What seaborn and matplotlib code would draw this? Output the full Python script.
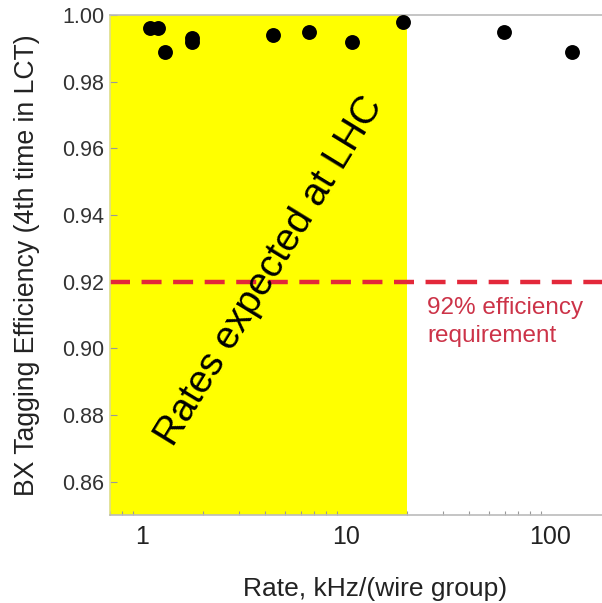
import matplotlib
matplotlib.use("Agg")
import matplotlib.pyplot as plt
import seaborn as sns
import pandas as pd
from matplotlib.ticker import FixedLocator, LogLocator, NullFormatter

# Measured BX tagging efficiency vs. wire-group rate
rate_khz = [1.09, 1.20, 1.30, 1.76, 1.76, 4.4, 6.6, 10.7, 19.0, 59.5, 129.0]
efficiency = [0.996, 0.996, 0.989, 0.993, 0.992, 0.994, 0.995, 0.992, 0.998, 0.995, 0.989]

requirement = 0.92          # efficiency requirement
lhc_rate_max = 20.0         # upper end of rates expected at LHC (kHz)

x_ticks = [1, 10, 100]
x_tick_labels = ["1", "10", "100"]
y_ticks = [0.86, 0.88, 0.90, 0.92, 0.94, 0.96, 0.98, 1.00]
y_tick_labels = ["0.86", "0.88", "0.90", "0.92", "0.94", "0.96", "0.98", "1.00"]

df = pd.DataFrame({"rate": rate_khz, "eff": efficiency})

sns.set_theme(style="white")
plt.rcParams["font.family"] = ["Liberation Sans", "DejaVu Sans"]

fig = plt.figure(figsize=(6.02, 6.03), dpi=100)
ax = fig.add_axes([110 / 602, 88 / 603, 1 - 110 / 602, (515 - 15) / 603])

ax.set_xscale("log")
ax.set_xlim(0.697, 180)
ax.set_ylim(0.85, 1.00)

# shaded band of expected LHC rates
ax.axvspan(0.697, lhc_rate_max, color="#ffff00", zorder=0, lw=0)

# requirement line
ax.axhline(requirement, color="#e3283a", lw=3.2, ls=(0, (4.5, 2.6)), zorder=2)

sns.scatterplot(data=df, x="rate", y="eff", ax=ax, color="black", s=115,
                edgecolor="black", linewidth=0, zorder=3, legend=False)

ax.text(4.24, 0.9231, "Rates expected at LHC", rotation=58.5, fontsize=28,
        ha="center", va="center", rotation_mode="anchor", color="black", zorder=2)

ax.text(25, 0.9155, "92% efficiency\nrequirement", fontsize=17.5, color="#cc3348",
        ha="left", va="top", linespacing=1.4)

ax.xaxis.set_major_locator(FixedLocator(x_ticks))
ax.set_xticklabels(x_tick_labels)
ax.xaxis.set_minor_locator(LogLocator(base=10, subs=range(2, 10)))
ax.xaxis.set_minor_formatter(NullFormatter())
ax.set_yticks(y_ticks)
ax.set_yticklabels(y_tick_labels)

ax.tick_params(axis="x", which="major", direction="in", length=6, width=0.8,
               color="#999999", labelsize=18, labelcolor="#222222", pad=7)
ax.tick_params(axis="x", which="minor", direction="in", length=3, width=0.8,
               color="#999999", bottom=True)
ax.tick_params(axis="y", which="major", direction="in", length=5, width=0.8,
               color="#999999", labelsize=15.5, labelcolor="#333333", pad=4, left=True)

ax.set_xlabel("Rate, kHz/(wire group)", fontsize=19, color="#222222")
ax.xaxis.set_label_coords(0.539, -0.124)
ax.set_ylabel("BX Tagging Efficiency (4th time in LCT)", fontsize=19.2,
              color="#222222", labelpad=16)

for name, sp in ax.spines.items():
    sp.set_color("#bbbbbb")
    sp.set_linewidth(1.2)
ax.spines["right"].set_visible(False)
ax.spines["left"].set_color("#dddd88")

fig.savefig("out.png", dpi=100)
